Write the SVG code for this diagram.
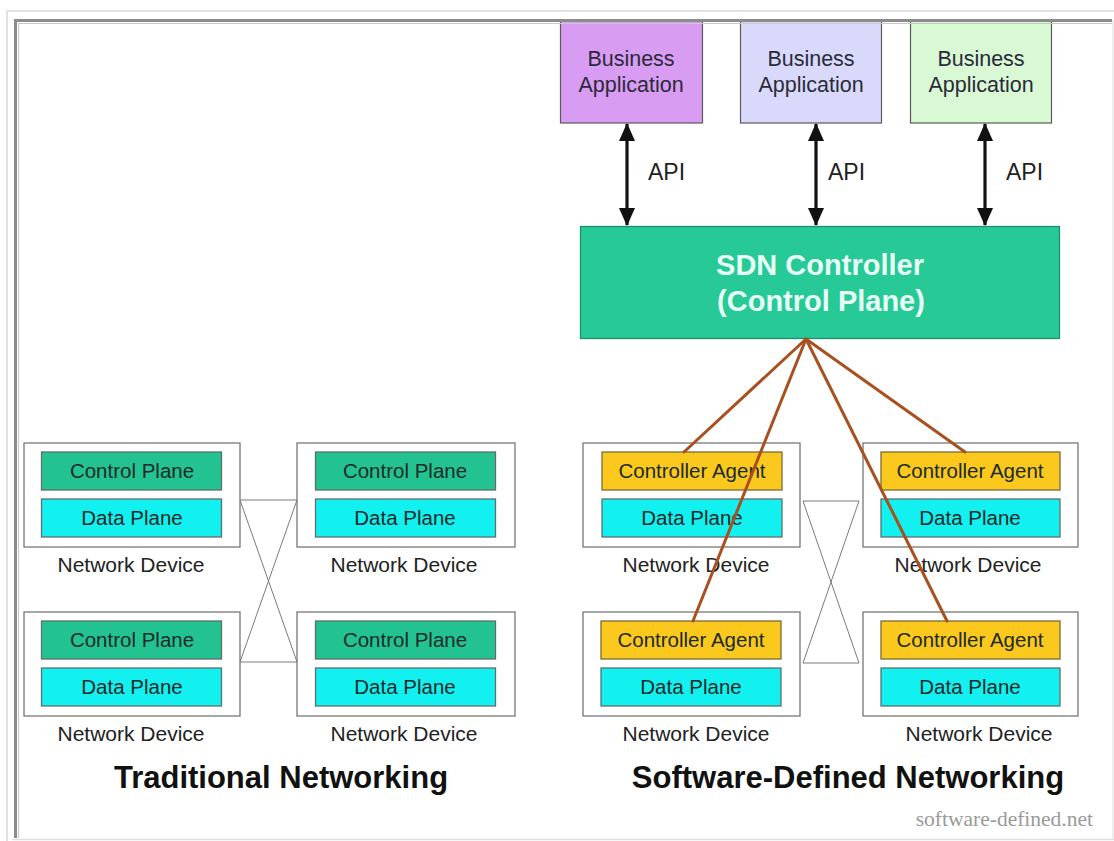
<svg xmlns="http://www.w3.org/2000/svg" width="1114" height="841" viewBox="0 0 1114 841">
  <style>
    text { font-family: "Liberation Sans", Arial, sans-serif; }
    .app { stroke: #5a5a5a; stroke-width: 1.2; }
    .app-label { font-size: 21.5px; fill: #2a2a3a; text-anchor: middle; }
    .api { font-size: 23px; fill: #222; }
    .device { fill: #fff; stroke: #777; stroke-width: 1.3; }
    .cp { fill: #22c391; stroke: #5f6f68; stroke-width: 1.3; }
    .dp { fill: #12f0ef; stroke: #5f6f6f; stroke-width: 1.3; }
    .agent { fill: #fbc91e; stroke: #7a6a3a; stroke-width: 1.3; }
    .inner-label { font-size: 20.5px; fill: #1c2a28; text-anchor: middle; }
    .dev-label { font-size: 21px; fill: #222; text-anchor: middle; }
    .title { font-size: 31px; font-weight: bold; fill: #111; text-anchor: middle; }
    .credit { font-family: "Liberation Serif", "Times New Roman", serif; font-size: 21.5px; fill: #9a9a9a; text-anchor: end; }
    .link { stroke: #7a7a7a; stroke-width: 1; fill: none; }
    .ctl-link { stroke: #a8501e; stroke-width: 3; fill: none; stroke-linecap: round; }
    .api-arrow { stroke: #111; stroke-width: 3.2; fill: none; }
  </style>
  <defs>
    <marker id="head" viewBox="0 0 18 16" refX="17" refY="8" markerWidth="18" markerHeight="16" markerUnits="userSpaceOnUse" orient="auto-start-reverse">
      <path d="M0,0 L18,8 L0,16 Z" fill="#111"/>
    </marker>
  </defs>

  <rect x="0" y="0" width="1114" height="841" fill="#fff"/>

  <!-- business applications -->
  <g id="app1">
    <rect class="app" x="560.5" y="21" width="142" height="102" fill="#d89cf2"/>
    <text class="app-label" x="631" y="66">Business</text>
    <text class="app-label" x="631" y="92">Application</text>
  </g>
  <g id="app2">
    <rect class="app" x="740.5" y="21" width="141" height="102" fill="#d9dafb"/>
    <text class="app-label" x="811" y="66">Business</text>
    <text class="app-label" x="811" y="92">Application</text>
  </g>
  <g id="app3">
    <rect class="app" x="910.5" y="21" width="141" height="102" fill="#d9f8d4"/>
    <text class="app-label" x="981" y="66">Business</text>
    <text class="app-label" x="981" y="92">Application</text>
  </g>

  <!-- controller -->
  <g id="sdn-controller">
    <rect x="580.5" y="226.5" width="479" height="112" fill="#27c996" stroke="#1f8f6c" stroke-width="1.3"/>
    <text x="820" y="275" font-size="29" font-weight="bold" fill="#e8fff6" text-anchor="middle">SDN Controller</text>
    <text x="821" y="311" font-size="29" font-weight="bold" fill="#e8fff6" text-anchor="middle">(Control Plane)</text>
  </g>

  <!-- traditional networking devices -->
  <g id="trad-dev-tl">
    <rect class="device" x="24" y="443" width="216" height="104"/>
    <rect class="cp" x="41.5" y="452" width="180" height="38"/>
    <text class="inner-label" x="132" y="478">Control Plane</text>
    <rect class="dp" x="41.5" y="499" width="180" height="38"/>
    <text class="inner-label" x="132" y="525">Data Plane</text>
    <text class="dev-label" x="131" y="572">Network Device</text>
  </g>
  <g id="trad-dev-tr">
    <rect class="device" x="297" y="443" width="218" height="104"/>
    <rect class="cp" x="315.5" y="452" width="180" height="38"/>
    <text class="inner-label" x="405" y="478">Control Plane</text>
    <rect class="dp" x="315.5" y="499" width="180" height="38"/>
    <text class="inner-label" x="405" y="525">Data Plane</text>
    <text class="dev-label" x="404" y="572">Network Device</text>
  </g>
  <g id="trad-dev-bl">
    <rect class="device" x="24" y="612" width="216" height="104"/>
    <rect class="cp" x="41.5" y="621" width="180" height="38"/>
    <text class="inner-label" x="132" y="647">Control Plane</text>
    <rect class="dp" x="41.5" y="668" width="180" height="38"/>
    <text class="inner-label" x="132" y="694">Data Plane</text>
    <text class="dev-label" x="131" y="741">Network Device</text>
  </g>
  <g id="trad-dev-br">
    <rect class="device" x="297" y="612" width="218" height="104"/>
    <rect class="cp" x="315.5" y="621" width="180" height="38"/>
    <text class="inner-label" x="405" y="647">Control Plane</text>
    <rect class="dp" x="315.5" y="668" width="180" height="38"/>
    <text class="inner-label" x="405" y="694">Data Plane</text>
    <text class="dev-label" x="404" y="741">Network Device</text>
  </g>

  <!-- software-defined networking devices -->
  <g id="sdn-dev-tl">
    <rect class="device" x="583" y="443" width="217" height="104"/>
    <rect class="agent" x="602" y="452" width="180" height="38"/>
    <text class="inner-label" x="692" y="478">Controller Agent</text>
    <rect class="dp" x="602" y="499" width="180" height="38"/>
    <text class="inner-label" x="692" y="525">Data Plane</text>
    <text class="dev-label" x="696" y="572">Network Device</text>
  </g>
  <g id="sdn-dev-tr">
    <rect class="device" x="863" y="443" width="215" height="104"/>
    <rect class="agent" x="881" y="452" width="179" height="38"/>
    <text class="inner-label" x="970" y="478">Controller Agent</text>
    <rect class="dp" x="881" y="499" width="179" height="38"/>
    <text class="inner-label" x="970" y="525">Data Plane</text>
    <text class="dev-label" x="968" y="572">Network Device</text>
  </g>
  <g id="sdn-dev-bl">
    <rect class="device" x="583" y="612" width="217" height="104"/>
    <rect class="agent" x="601" y="621" width="180" height="38"/>
    <text class="inner-label" x="691" y="647">Controller Agent</text>
    <rect class="dp" x="601" y="668" width="180" height="38"/>
    <text class="inner-label" x="691" y="694">Data Plane</text>
    <text class="dev-label" x="696" y="741">Network Device</text>
  </g>
  <g id="sdn-dev-br">
    <rect class="device" x="863" y="612" width="215" height="104"/>
    <rect class="agent" x="881" y="621" width="179" height="38"/>
    <text class="inner-label" x="970" y="647">Controller Agent</text>
    <rect class="dp" x="881" y="668" width="179" height="38"/>
    <text class="inner-label" x="970" y="694">Data Plane</text>
    <text class="dev-label" x="979" y="741">Network Device</text>
  </g>

  <!-- connectors -->
  <g id="connectors">
    <!-- API links -->
    <line class="api-arrow" x1="627" y1="124" x2="627" y2="225" marker-start="url(#head)" marker-end="url(#head)"/>
    <line class="api-arrow" x1="816" y1="124" x2="816" y2="225" marker-start="url(#head)" marker-end="url(#head)"/>
    <line class="api-arrow" x1="985" y1="124" x2="985" y2="225" marker-start="url(#head)" marker-end="url(#head)"/>
    <text class="api" x="648" y="180">API</text>
    <text class="api" x="828" y="180">API</text>
    <text class="api" x="1006" y="180">API</text>

    <!-- traditional mesh -->
    <path class="link" d="M240,500 H297 M240,662 H297 M240,500 L297,662 M297,500 L240,662"/>
    <!-- sdn data-plane mesh -->
    <path class="link" d="M803,501 H859 M803,663 H859 M803,501 L859,663 M859,501 L803,663"/>

    <!-- controller to agents -->
    <line class="ctl-link" x1="806" y1="339" x2="684" y2="452"/>
    <line class="ctl-link" x1="806" y1="339" x2="693" y2="621"/>
    <line class="ctl-link" x1="806" y1="339" x2="947" y2="621"/>
    <line class="ctl-link" x1="806" y1="339" x2="965" y2="452"/>
  </g>

  <!-- headings -->
  <text class="title" x="281" y="788">Traditional Networking</text>
  <text class="title" x="848" y="788">Software-Defined Networking</text>
  <text class="credit" x="1093" y="826">software-defined.net</text>

  <!-- page frame -->
  <path d="M7,841 V11 H1114" fill="none" stroke="#e2e2e2" stroke-width="2"/>
  <path d="M15.5,838 V20.5 H1112" fill="none" stroke="#8c8c8c" stroke-width="3"/>
  <path d="M18.5,838 V23.5 H1112" fill="none" stroke="#c9c9c9" stroke-width="1.2"/>
  <path d="M12,839.5 H1114" fill="none" stroke="#e0e0e0" stroke-width="1.5"/>
  <path d="M1113,20 V839" fill="none" stroke="#e8e8e8" stroke-width="1.5"/>
</svg>
